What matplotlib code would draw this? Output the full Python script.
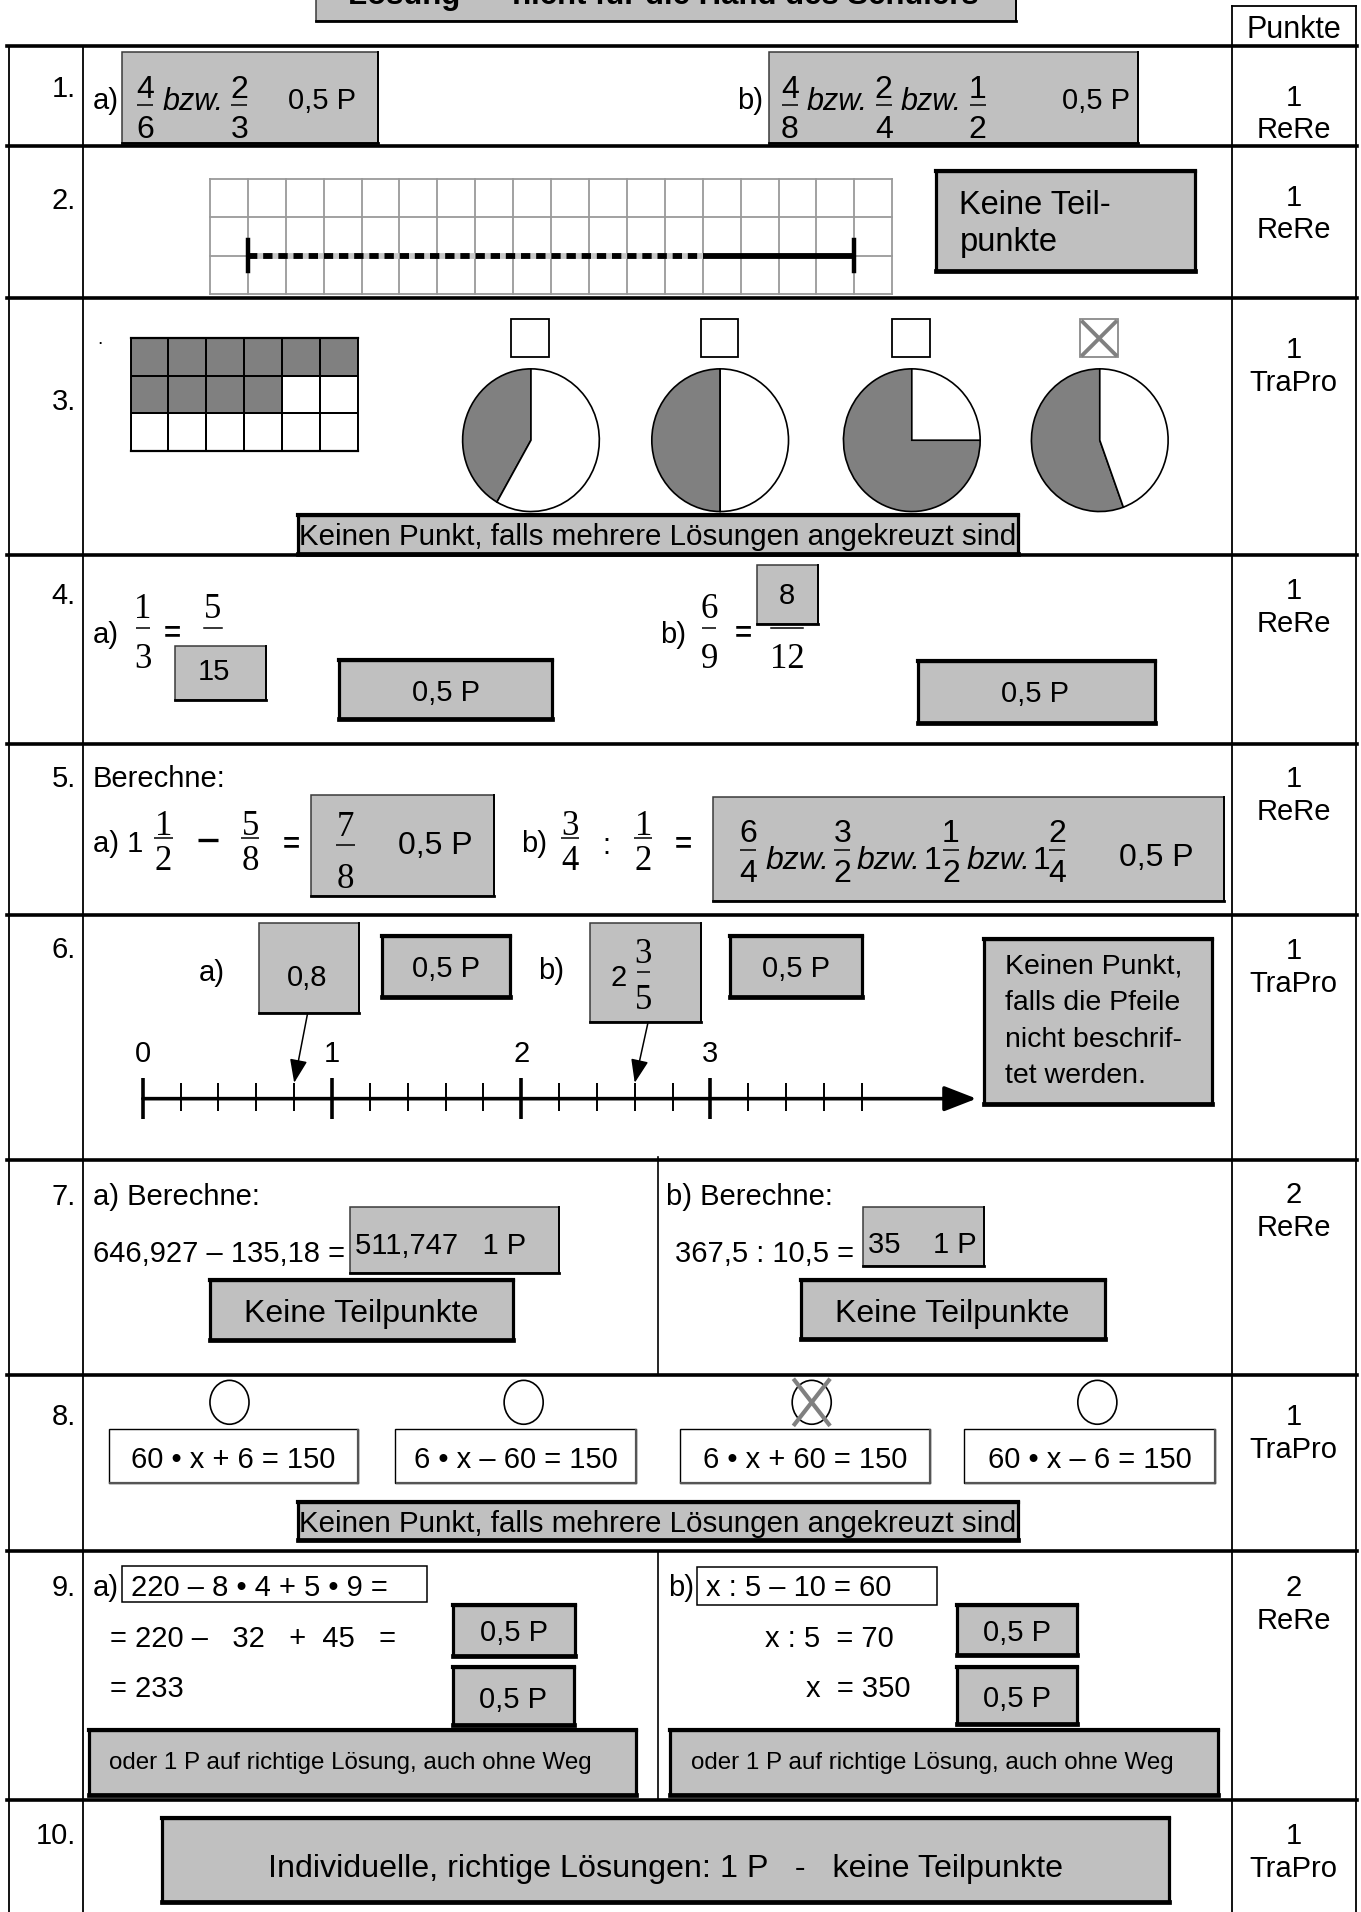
import matplotlib
matplotlib.use('Agg')
import matplotlib.pyplot as plt
from matplotlib.patches import Rectangle, Ellipse
from matplotlib.textpath import TextPath
from matplotlib.font_manager import FontProperties
import numpy as np

# ---------------- data ----------------
task_numbers = ['1.', '2.', '3.', '4.', '5.', '6.', '7.', '8.', '9.', '10.']
task_points = ['1', '1', '1', '1', '1', '1', '2', '1', '2', '1']
task_kind = ['ReRe', 'ReRe', 'TraPro', 'ReRe', 'ReRe', 'TraPro', 'ReRe', 'TraPro', 'ReRe', 'TraPro']

segment_units = [1, 13, 17]          # start, end of dotted part, end of solid part (grid units)
grid2_cols, grid2_rows = 18, 3
rect_shaded_per_row = [6, 4, 0]      # shaded cells per row of the 6x3 rectangle
rect_cols = 6
pie_shares = [0.417, 0.5, 0.75, 0.556]
pie_checked = [False, False, False, True]
numline_labels = [0, 1, 2, 3]
numline_last_tick = 3.8
numline_arrows = [0.8, 2.6]
eq_options = ['60 • x + 6 = 150', '6 • x – 60 = 150', '6 • x + 60 = 150', '60 • x – 6 = 150']
eq_checked = [False, False, True, False]

# ---------------- canvas ----------------
W, H = 1115, 1568
FW, FH = 13.61, 19.12
fig = plt.figure(figsize=(FW, FH), dpi=100)
ax = fig.add_axes([0, 0, 1, 1])
ax.set_xlim(0, W)
ax.set_ylim(H, 0)
ax.axis('off')
PT = FW * 72 / W  # points per layout unit

SANS = 'Liberation Sans'
SERIF = 'Liberation Serif'
BOXGRAY = '#c0c0c0'
PIEGRAY = '#808080'
CAP = {SANS: 0.716, SERIF: 0.662}


def txt(x, yc, s, size, ha='left', family=SANS, style='normal', weight='normal', color='black', z=6):
    base = yc + CAP[family] * size / PT / 2
    ax.text(x, base, s, fontsize=size, ha=ha, va='baseline', family=family,
            style=style, weight=weight, color=color, zorder=z)


def txt_fit(x0, x1, yc, s, family=SANS, style='normal', weight='normal', z=6):
    prop = FontProperties(family=family, style=style, weight=weight)
    e = TextPath((0, 0), s, size=100, prop=prop).get_extents()
    size = 100 * (x1 - x0) * PT / e.width
    xl = x0 - e.x0 * size / 100 / PT
    txt(xl, yc, s, size, 'left', family, style, weight, z=z)
    return size


def frac(xc, yc, num, den, size, family=SANS, dyn=14, dyd=15, barw=None, lw=1.1):
    txt(xc, yc - dyn, num, size, 'center', family)
    txt(xc, yc + dyd, den, size, 'center', family)
    if barw is None:
        barw = 0.5 * size / PT * max(len(num), len(den)) + 1
    ax.plot([xc - barw / 2, xc + barw / 2], [yc, yc], color='k', lw=lw,
            solid_capstyle='butt', zorder=6)


def box(x0, y0, x1, y1, kind='shadow', fill=BOXGRAY, z=3):
    if kind == 'thick':
        ax.add_patch(Rectangle((x0, y0), x1 - x0, y1 - y0, facecolor=fill,
                               edgecolor='black', lw=2.3, zorder=z))
        ax.plot([x0, x1], [y0, y0], color='k', lw=3.0, zorder=z + 0.1, solid_capstyle='projecting')
        ax.plot([x0, x1], [y1, y1], color='k', lw=3.4, zorder=z + 0.1, solid_capstyle='projecting')
    elif kind == 'shadow':
        ax.add_patch(Rectangle((x0, y0), x1 - x0, y1 - y0, facecolor=fill,
                               edgecolor='#3a3a3a', lw=1.1, zorder=z))
        ax.plot([x0, x1], [y1, y1], color='k', lw=2.0, zorder=z + 0.1, solid_capstyle='projecting')
        ax.plot([x1, x1], [y0, y1], color='k', lw=1.4, zorder=z + 0.1)
    else:
        ax.add_patch(Rectangle((x0, y0), x1 - x0, y1 - y0, facecolor=fill,
                               edgecolor='black', lw=1.0, zorder=z))
        ax.plot([x0 + 1, x1], [y1, y1], color='#555555', lw=1.6, zorder=z + 0.1)
        ax.plot([x1, x1], [y0 + 1, y1], color='#555555', lw=1.6, zorder=z + 0.1)


def inset(x0, y0, x1, y1):
    a = fig.add_axes([x0 / W, 1 - y1 / H, (x1 - x0) / W, (y1 - y0) / H])
    a.axis('off')
    a.patch.set_visible(False)
    return a


S = 21   # body size
SF = 25  # serif fraction size
SB = 23  # answer-box fraction size

# ---------------- header ----------------
box(259, -12, 832, 17, 'shadow')
txt_fit(287, 802, -6, 'Lösung  –  nicht für die Hand des Schülers', weight='bold')

# Punkte cell
ax.plot([1009, 1111], [5, 5], color='k', lw=1.3)
for xv in (1009, 1111):
    ax.plot([xv, xv], [5, 38], color='k', lw=1.3)
txt(1060, 22, 'Punkte', 22, 'center')

# ---------------- table frame ----------------
L, C1, C2, R = 7, 68, 1009, 1111
row_lines = [38, 120, 244, 455, 610, 750, 951, 1128, 1272, 1476]
for yv in row_lines:
    ax.plot([L - 1, R + 1], [yv, yv], color='k', lw=2.6, zorder=4)
for xv in (L, C1, C2, R):
    ax.plot([xv, xv], [38, H + 5], color='k', lw=1.3, zorder=4)
ax.plot([539, 539], [949, 1128], color='k', lw=1.2, zorder=4)
ax.plot([539, 539], [1272, 1476], color='k', lw=1.2, zorder=4)

label_y = [71, 163, 328, 487, 637, 777, 980, 1160, 1300, 1504]
points_y = [78, 160, 285, 483, 637, 778, 978, 1160, 1300, 1504]
for lab, ly, pt_, kind, py in zip(task_numbers, label_y, task_points, task_kind, points_y):
    txt(62, ly, lab, S, 'right')
    txt(1060, py, pt_, S, 'center')
    txt(1060, py + 27, kind, S, 'center')

# ---------------- row 1 ----------------
txt(76, 81, 'a)', S)
box(100, 43, 310, 117, 'shadow')
frac(119, 86, '4', '6', SB, dyn=15, dyd=18, barw=13)
txt(133, 81, 'bzw.', 22, style='italic')
frac(196, 86, '2', '3', SB, dyn=15, dyd=18, barw=13)
txt(236, 81, '0,5 P', 21)

txt(604, 81, 'b)', S)
box(630, 43, 932, 117, 'shadow')
frac(647, 86, '4', '8', SB, dyn=15, dyd=18, barw=13)
txt(661, 81, 'bzw.', 22, style='italic')
frac(724, 86, '2', '4', SB, dyn=15, dyd=18, barw=13)
txt(738, 81, 'bzw.', 22, style='italic')
frac(801, 86, '1', '2', SB, dyn=15, dyd=18, barw=13)
txt(870, 81, '0,5 P', 21)

# ---------------- row 2 ----------------
g2 = inset(172, 147, 731, 241)
g2.set_xlim(0, grid2_cols)
g2.set_ylim(grid2_rows, 0)
for c in range(grid2_cols + 1):
    g2.plot([c, c], [0, grid2_rows], color='#9a9a9a', lw=1.3, clip_on=False)
for r in range(grid2_rows + 1):
    g2.plot([0, grid2_cols], [r, r], color='#9a9a9a', lw=1.3, clip_on=False)
s0, s1, s2 = segment_units
g2.plot([s0, s1], [2, 2], color='#c8c8c8', lw=4.2, solid_capstyle='butt', zorder=3)
g2.plot([s0, s1], [2, 2], color='black', lw=4.2, linestyle=(0, (1.6, 1.0)), zorder=4)
g2.plot([s1, s2], [2, 2], color='black', lw=4.2, solid_capstyle='butt', zorder=4)
for xv in (s0, s2):
    g2.plot([xv, xv], [1.6, 2.4], color='black', lw=3.2, zorder=5)

box(767, 140, 979, 222, 'thick')
txt(786, 166, 'Keine Teil-', 23.5)
txt(786, 196, 'punkte', 23.5)

# ---------------- row 3 ----------------
txt(80, 276, '.', 14)
rg = inset(107, 277, 293, 370)
nrows = len(rect_shaded_per_row)
mat = np.zeros((nrows, rect_cols))
for r, n in enumerate(rect_shaded_per_row):
    mat[r, :n] = 1
rg.pcolormesh(mat, cmap=matplotlib.colors.ListedColormap(['white', PIEGRAY]),
              edgecolors='black', linewidth=1.4, vmin=0, vmax=1)
rg.set_xlim(0, rect_cols)
rg.set_ylim(nrows, 0)
for sp in (0, rect_cols):
    rg.plot([sp, sp], [0, nrows], color='k', lw=1.4, clip_on=False)
rg.plot([0, rect_cols], [0, 0], color='k', lw=1.6, clip_on=False)
rg.plot([0, rect_cols], [nrows, nrows], color='k', lw=1.6, clip_on=False)

pie_x = [435, 590, 747, 901]
pie_rx, pie_ry = 56, 58.5
pie_yc = 361
for px, share, chk in zip(pie_x, pie_shares, pie_checked):
    m = 1.08
    pa = inset(px - pie_rx * m, pie_yc - pie_ry * m, px + pie_rx * m, pie_yc + pie_ry * m)
    pa.pie([share, 1 - share], colors=[PIEGRAY, 'white'], startangle=90, counterclock=True,
           wedgeprops=dict(edgecolor='black', linewidth=1.2))
    pa.set_aspect('auto')
    pa.set_xlim(-m, m)
    pa.set_ylim(-m, m)
    bx0, by0 = px - 16, 262
    ec = '#8a8a8a' if chk else 'black'
    ax.add_patch(Rectangle((bx0, by0), 31, 31, facecolor='white', edgecolor=ec, lw=1.3, zorder=5))
    if chk:
        ax.plot([bx0 + 2, bx0 + 29], [by0 + 2, by0 + 29], color=PIEGRAY, lw=2.8, zorder=6)
        ax.plot([bx0 + 2, bx0 + 29], [by0 + 29, by0 + 2], color=PIEGRAY, lw=2.8, zorder=6)

box(244, 422, 834, 454, 'thick')
txt_fit(247, 831, 438, 'Keinen Punkt, falls mehrere Lösungen angekreuzt sind')

# ---------------- row 4 ----------------
txt(76, 519, 'a)', S)
frac(117, 515, '1', '3', SF, family=SERIF, dyn=18, dyd=23, barw=11)
txt(141, 517, '=', S, 'center', weight='bold')
txt(174, 497, '5', SF, 'center', family=SERIF)
ax.plot([167, 182], [515, 515], color='k', lw=1.1)
box(143, 530, 218, 574, 'shadow')
txt(175, 549, '15', S, 'center')
box(278, 541, 452, 590, 'thick')
txt(365, 566, '0,5 P', S, 'center')

txt(541, 519, 'b)', S)
frac(581, 515, '6', '9', SF, family=SERIF, dyn=18, dyd=23, barw=11)
txt(609, 517, '=', S, 'center', weight='bold')
box(620, 463, 670, 512, 'shadow')
txt(645, 487, '8', S, 'center')
ax.plot([632, 658], [515, 515], color='k', lw=1.1)
txt(645, 538, '12', SF, 'center', family=SERIF)
box(752, 542, 946, 593, 'thick')
txt(848, 567, '0,5 P', S, 'center')

# ---------------- row 5 ----------------
txt(76, 637, 'Berechne:', S)
txt(76, 690, 'a) 1', S)
frac(134, 687, '1', '2', SF, family=SERIF, dyn=12, dyd=17, barw=15)
ax.plot([162, 179], [689, 689], color='k', lw=2.4, solid_capstyle='butt')
frac(205, 687, '5', '8', SF, family=SERIF, dyn=12, dyd=17, barw=15)
txt(239, 690, '=', S, 'center', weight='bold')
box(255, 652, 405, 735, 'shadow')
frac(283, 693, '7', '8', SF, family=SERIF, dyn=17, dyd=26, barw=16)
txt(326, 691, '0,5 P', SB)
txt(427, 690, 'b)', S)
frac(467, 687, '3', '4', SF, family=SERIF, dyn=12, dyd=17, barw=15)
txt(497, 692, ':', S, 'center')
frac(527, 687, '1', '2', SF, family=SERIF, dyn=12, dyd=17, barw=15)
txt(560, 690, '=', S, 'center', weight='bold')
box(584, 654, 1003, 739, 'shadow')
frac(613, 697, '6', '4', SB, dyn=16, dyd=17, barw=13)
txt(627, 703, 'bzw.', SB, style='italic')
frac(690, 697, '3', '2', SB, dyn=16, dyd=17, barw=13)
txt(702, 703, 'bzw.', SB, style='italic')
txt(764, 703, '1', SB, 'center')
frac(779, 697, '1', '2', SB, dyn=16, dyd=17, barw=13)
txt(792, 703, 'bzw.', SB, style='italic')
txt(853, 703, '1', SB, 'center')
frac(866, 697, '2', '4', SB, dyn=16, dyd=17, barw=13)
txt(917, 701, '0,5 P', SB)

# ---------------- row 6 ----------------
txt(163, 796, 'a)', S)
box(212, 757, 294, 831, 'shadow')
txt(252, 800, '0,8', S, 'center')
box(313, 768, 418, 818, 'thick')
txt(365, 793, '0,5 P', S, 'center')
txt(441, 794, 'b)', S)
box(483, 757, 574, 838, 'shadow')
txt(507, 800, '2', S, 'center')
frac(527, 797, '3', '5', SF, family=SERIF, dyn=17, dyd=21, barw=11)
box(598, 768, 706, 818, 'thick')
txt(652, 793, '0,5 P', S, 'center')
box(806, 770, 993, 905, 'thick')
for i, line in enumerate(['Keinen Punkt,', 'falls die Pfeile', 'nicht beschrif-', 'tet werden.']):
    txt(823, 790 + i * 30, line, 20.5)

NL0, NLU, NLY = 117, 155, 901
nl = inset(95, 840, 815, 930)
nl.set_xlim((95 - NL0) / NLU, (815 - NL0) / NLU)
nl.set_ylim(930 - NLY, 840 - NLY)
arrow_end = (800 - NL0) / NLU
nl.annotate('', xy=(arrow_end, 0), xytext=(0, 0),
            arrowprops=dict(arrowstyle='-|>,head_length=0.9,head_width=0.35', lw=2.6,
                            color='black', shrinkA=0, shrinkB=0, mutation_scale=22))
ticks = np.round(np.arange(0, numline_last_tick + 0.01, 0.2), 1)
for t in ticks:
    if t in numline_labels:
        nl.plot([t, t], [-17, 17], color='k', lw=2.6, solid_capstyle='butt')
    else:
        nl.plot([t, t], [-13, 10], color='k', lw=1.4, solid_capstyle='butt')
for v in numline_labels:
    nl.text(v, -30, str(v), fontsize=S, family=SANS, ha='center', va='baseline')
for v, (sx, sy) in zip(numline_arrows, [(252, 831), (531, 838)]):
    ax.annotate('', xy=(v, -13), xycoords=nl.transData, xytext=(sx, sy), textcoords='data',
                arrowprops=dict(arrowstyle='-|>,head_length=0.8,head_width=0.3', lw=1.1,
                                color='black', shrinkA=0, shrinkB=0, mutation_scale=18))

# ---------------- row 7 ----------------
txt(76, 980, 'a) Berechne:', S)
txt(76, 1026, '646,927 – 135,18 =', S)
box(287, 990, 458, 1044, 'shadow')
txt(291, 1020, '511,747   1 P', S)
box(172, 1050, 420, 1099, 'thick')
txt(296, 1075, 'Keine Teilpunkte', 23, 'center')
txt(546, 980, 'b) Berechne:', S)
txt(553, 1026, '367,5 : 10,5 =', S)
box(707, 990, 806, 1038, 'shadow')
txt(711, 1019, '35    1 P', S)
box(656, 1050, 905, 1098, 'thick')
txt(780, 1075, 'Keine Teilpunkte', 23, 'center')

# ---------------- row 8 ----------------
eq_boxes = [(89, 293), (324, 521), (557, 762), (790, 995)]
circ_x = [188, 429, 665, 899]
for (bx0, bx1), cx, eq, chk in zip(eq_boxes, circ_x, eq_options, eq_checked):
    ax.add_patch(Ellipse((cx, 1150), 32, 36, facecolor='white', edgecolor='black', lw=1.2, zorder=5))
    if chk:
        ax.plot([cx - 14, cx + 14], [1132, 1168], color=PIEGRAY, lw=3.0, zorder=6)
        ax.plot([cx - 14, cx + 14], [1168, 1132], color=PIEGRAY, lw=3.0, zorder=6)
    box(bx0, 1172, bx1, 1216, 'thin', fill='white')
    txt((bx0 + bx1) / 2, 1195, eq, S, 'center')
box(244, 1232, 834, 1263, 'thick')
txt_fit(247, 831, 1248, 'Keinen Punkt, falls mehrere Lösungen angekreuzt sind')

# ---------------- row 9 ----------------
txt(76, 1300, 'a)', S)
ax.add_patch(Rectangle((100, 1284), 250, 30, facecolor='white', edgecolor='black', lw=1.1, zorder=3))
txt(107, 1300, '220 – 8 • 4 + 5 • 9 =', S)
txt(90, 1342, '= 220 –   32   +  45   =', S)
box(371, 1316, 471, 1358, 'thick')
txt(421, 1337, '0,5 P', S, 'center')
txt(90, 1383, '= 233', S)
box(371, 1367, 470, 1415, 'thick')
txt(420, 1392, '0,5 P', S, 'center')
box(73, 1419, 521, 1472, 'thick')
txt_fit(90, 484, 1444, 'oder 1 P auf richtige Lösung, auch ohne Weg')

txt(547, 1300, 'b)', S)
ax.add_patch(Rectangle((571, 1285), 197, 31, facecolor='white', edgecolor='black', lw=1.1, zorder=3))
txt(578, 1300, 'x : 5 – 10 = 60', S)
txt(627, 1342, 'x : 5  = 70', S)
box(784, 1316, 882, 1357, 'thick')
txt(833, 1337, '0,5 P', S, 'center')
txt(660, 1383, 'x  = 350', S)
box(784, 1367, 882, 1414, 'thick')
txt(833, 1391, '0,5 P', S, 'center')
box(549, 1419, 998, 1472, 'thick')
txt_fit(567, 962, 1444, 'oder 1 P auf richtige Lösung, auch ohne Weg')

# ---------------- row 10 ----------------
box(133, 1491, 958, 1560, 'thick')
txt_fit(222, 870, 1530, 'Individuelle, richtige Lösungen: 1 P   -   keine Teilpunkte')

fig.savefig('out.png', dpi=100)
